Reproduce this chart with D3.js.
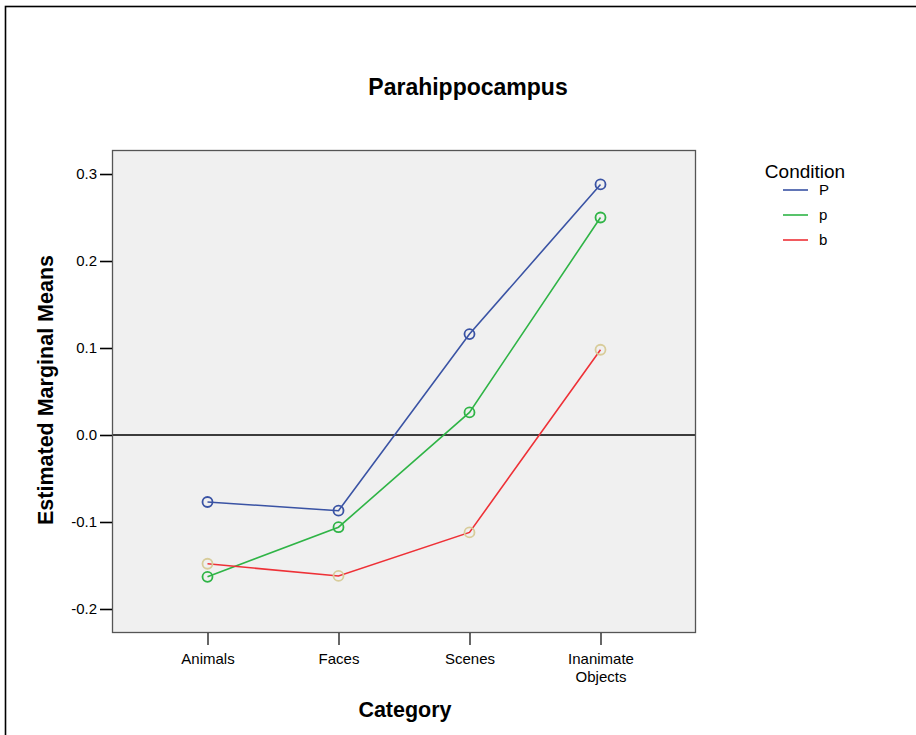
<!DOCTYPE html>
<html>
<head>
<meta charset="utf-8">
<script src="https://cdn.jsdelivr.net/npm/d3@7"></script>
<style>
  html, body { margin: 0; padding: 0; background: #fff; }
  svg { display: block; font-family: "Liberation Sans", Arial, sans-serif; }
</style>
</head>
<body>
<svg id="chart" width="916" height="735"></svg>
<script>
// Estimated marginal means for the parahippocampus, by category and condition
const categories = ["Animals", "Faces", "Scenes", "Inanimate Objects"];
const conditions = ["P", "p", "b"];
const valuesP = [-0.077, -0.087, 0.116, 0.288];
const valuesLowerP = [-0.163, -0.106, 0.026, 0.250];
const valuesB = [-0.148, -0.162, -0.112, 0.098];
const yTicks = [-0.2, -0.1, 0.0, 0.1, 0.2, 0.3];

const lineColors = ["#3a53a4", "#2fb446", "#ee3137"];
const markerColors = ["#3a53a4", "#2fb446", "#d8cc9a"];
const seriesValues = [valuesP, valuesLowerP, valuesB];

const svg = d3.select("#chart");

// outer frame
svg.append("rect")
  .attr("x", 5.5).attr("y", 6.5)
  .attr("width", 1000).attr("height", 1000)
  .attr("fill", "none").attr("stroke", "#000").attr("stroke-width", 1.6);

const plot = { left: 112, right: 696, top: 150, bottom: 633 };

const x = d3.scalePoint()
  .domain(categories)
  .range([plot.left, plot.right])
  .padding(0.729);

const y = d3.scaleLinear()
  .domain([-0.2276, 0.3276])
  .range([plot.bottom, plot.top]);

// plot background
svg.append("rect")
  .attr("x", plot.left).attr("y", plot.top)
  .attr("width", plot.right - plot.left).attr("height", plot.bottom - plot.top)
  .attr("fill", "#f0f0f0");

// zero reference line
svg.append("line")
  .attr("x1", plot.left).attr("x2", plot.right)
  .attr("y1", y(0)).attr("y2", y(0))
  .attr("stroke", "#000").attr("stroke-width", 1.6);

// plot frame
svg.append("rect")
  .attr("x", plot.left + 0.5).attr("y", plot.top + 0.5)
  .attr("width", plot.right - plot.left - 1).attr("height", plot.bottom - plot.top - 1)
  .attr("fill", "none").attr("stroke", "#555").attr("stroke-width", 1.3);

// y axis (plain hyphen for negatives)
const fmt = d3.format(".1f");
const yAxis = d3.axisLeft(y)
  .tickValues(yTicks)
  .tickSize(12)
  .tickPadding(3)
  .tickFormat(d => fmt(d).replace("\u2212", "-"));
const yg = svg.append("g").attr("transform", `translate(${plot.left},0)`).call(yAxis);
yg.select(".domain").remove();
yg.selectAll(".tick line").attr("stroke", "#000").attr("stroke-width", 1.6);
yg.selectAll(".tick text").attr("font-size", 15).attr("fill", "#000")
  .attr("font-family", "Liberation Sans, Arial, sans-serif");

// x axis
const xAxis = d3.axisBottom(x).tickSize(12).tickPadding(8);
const xg = svg.append("g").attr("transform", `translate(0,${plot.bottom})`).call(xAxis);
xg.select(".domain").remove();
xg.selectAll(".tick line").attr("stroke", "#000").attr("stroke-width", 1.2);
xg.selectAll(".tick text").attr("font-size", 15).attr("fill", "#000")
  .attr("font-family", "Liberation Sans, Arial, sans-serif")
  .each(function(d) {
    const words = d.split(" ");
    const t = d3.select(this).text(null);
    words.forEach((w, i) => {
      t.append("tspan").attr("x", 0).attr("dy", i === 0 ? "0.71em" : "1.2em").text(w);
    });
  });

// series lines and markers
const line = d3.line()
  .x((d, i) => x(categories[i]))
  .y(d => y(d));

seriesValues.forEach((vals, s) => {
  svg.append("path")
    .datum(vals)
    .attr("d", line)
    .attr("fill", "none")
    .attr("stroke", lineColors[s])
    .attr("stroke-width", 1.6);
});
seriesValues.forEach((vals, s) => {
  svg.selectAll(null)
    .data(vals)
    .enter().append("circle")
    .attr("cx", (d, i) => x(categories[i]))
    .attr("cy", d => y(d))
    .attr("r", 5)
    .attr("fill", "none")
    .attr("stroke", markerColors[s])
    .attr("stroke-width", 1.8);
});

// titles
svg.append("text")
  .attr("x", 468).attr("y", 95)
  .attr("text-anchor", "middle")
  .attr("font-size", 23).attr("font-weight", "bold")
  .text("Parahippocampus");

svg.append("text")
  .attr("x", 405).attr("y", 717)
  .attr("text-anchor", "middle")
  .attr("font-size", 21.5).attr("font-weight", "bold")
  .text("Category");

svg.append("text")
  .attr("transform", "translate(53,390) rotate(-90)")
  .attr("text-anchor", "middle")
  .attr("font-size", 21.5).attr("font-weight", "bold")
  .text("Estimated Marginal Means");

// legend
const legend = svg.append("g");
legend.append("text")
  .attr("x", 805).attr("y", 178)
  .attr("text-anchor", "middle")
  .attr("font-size", 19)
  .text("Condition");
const rowY = [190, 215, 240];
conditions.forEach((c, i) => {
  legend.append("line")
    .attr("x1", 783).attr("x2", 808)
    .attr("y1", rowY[i]).attr("y2", rowY[i])
    .attr("stroke", lineColors[i]).attr("stroke-width", 1.6);
  legend.append("text")
    .attr("x", 819).attr("y", rowY[i] + 5)
    .attr("font-size", 15)
    .text(c);
});
</script>
</body>
</html>
